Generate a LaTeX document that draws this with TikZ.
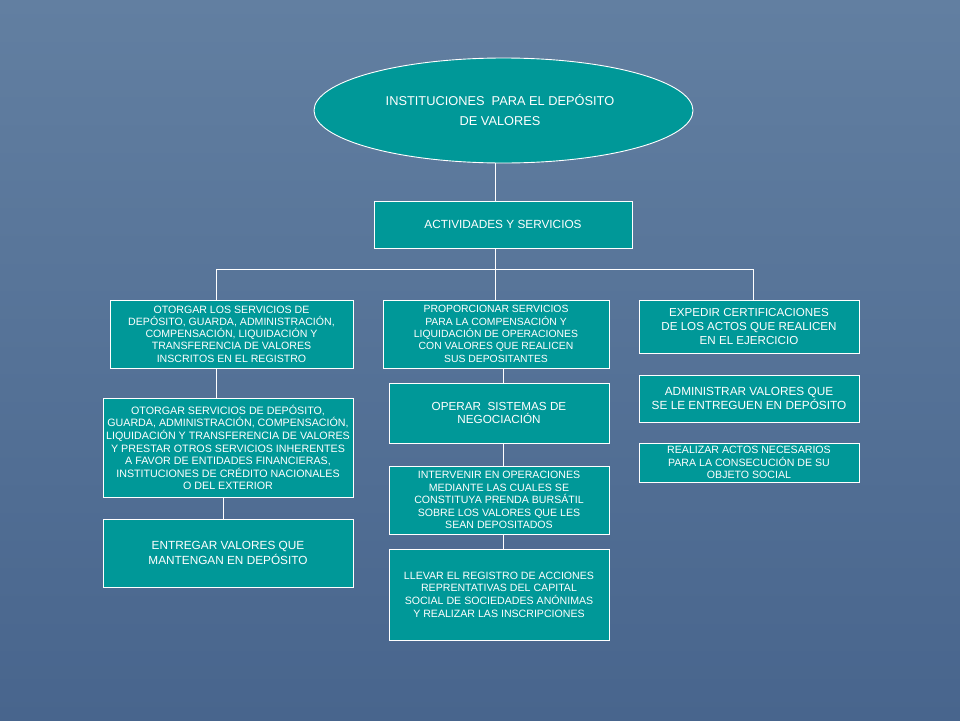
\documentclass[tikz,border=0pt]{standalone}
\usepackage{fontspec}
\setmainfont{Liberation Sans}
\usetikzlibrary{shapes.geometric}
\definecolor{bgtop}{RGB}{98,127,161}
\definecolor{bgbot}{RGB}{72,101,141}
\definecolor{tealbox}{RGB}{0,152,152}
\newcommand\fsz[2]{\fontsize{#1}{#2}\selectfont}
\tikzset{
  box/.style={draw=white, line width=0.9pt, fill=tealbox, text=white, align=center, inner sep=0pt, rectangle},
  link/.style={draw=white, line width=1pt},
}
\begin{document}
\begin{tikzpicture}[x=1pt,y=-1pt]
\useasboundingbox (0,0) rectangle (960,720);
\shade[top color=bgtop, bottom color=bgbot] (0,0) rectangle (960,720);

\node[box, ellipse, minimum width=379pt, minimum height=105pt, font=\fsz{12.8}{20}] (ell) at (503.5,110.5) {};
\node[text=white, align=center, font=\fsz{12.8}{20}, inner sep=0pt] (ellt) at (500,110) {INSTITUCIONES\ \ PARA EL DEPÓSITO\\DE VALORES};

\node[box, minimum width=258pt, minimum height=47pt, font=\fsz{11.8}{14}] (act) at (503,224.5) {ACTIVIDADES Y SERVICIOS};

\node[box, minimum width=243pt, minimum height=68pt, font=\fsz{10.6}{12.2}] (b1) at (231.5,334)
 {OTORGAR LOS SERVICIOS DE\\DEPÓSITO, GUARDA, ADMINISTRACIÓN,\\COMPENSACIÓN, LIQUIDACIÓN Y\\TRANSFERENCIA DE VALORES\\INSCRITOS EN EL REGISTRO};
\node[box, minimum width=250pt, minimum height=99pt, font=\fsz{10.7}{12.6}] (b2) at (228,447.5)
 {OTORGAR SERVICIOS DE DEPÓSITO,\\GUARDA, ADMINISTRACIÓN, COMPENSACIÓN,\\LIQUIDACIÓN Y TRANSFERENCIA DE VALORES\\Y PRESTAR OTROS SERVICIOS INHERENTES\\A FAVOR DE ENTIDADES FINANCIERAS,\\INSTITUCIONES DE CRÉDITO NACIONALES\\O DEL EXTERIOR};
\node[box, minimum width=250pt, minimum height=68pt, font=\fsz{11.8}{15}] (b3) at (228,553)
 {ENTREGAR VALORES QUE\\MANTENGAN EN DEPÓSITO};

\node[box, minimum width=226pt, minimum height=68pt, font=\fsz{10.4}{12.4}] (m1) at (496,334)
 {PROPORCIONAR SERVICIOS\\PARA LA COMPENSACIÓN Y\\LIQUIDACIÓN DE OPERACIONES\\CON VALORES QUE REALICEN\\SUS DEPOSITANTES};
\node[box, minimum width=220pt, minimum height=60pt, font=\fsz{11.7}{13.5}] (m2) at (499,413)
 {OPERAR\ \ SISTEMAS DE\\NEGOCIACIÓN};
\node[box, minimum width=220pt, minimum height=68pt, font=\fsz{10.6}{12.5}] (m3) at (499,500)
 {INTERVENIR EN OPERACIONES\\MEDIANTE LAS CUALES SE\\CONSTITUYA PRENDA BURSÁTIL\\SOBRE LOS VALORES QUE LES\\SEAN DEPOSITADOS};
\node[box, minimum width=220pt, minimum height=91pt, font=\fsz{10.6}{12.7}] (m4) at (499,594.5)
 {LLEVAR EL REGISTRO DE ACCIONES\\REPRENTATIVAS DEL CAPITAL\\SOCIAL DE SOCIEDADES ANÓNIMAS\\Y REALIZAR LAS INSCRIPCIONES};

\node[box, minimum width=220pt, minimum height=53pt, font=\fsz{11.6}{14}] (r1) at (749,326.5)
 {EXPEDIR CERTIFICACIONES\\DE LOS ACTOS QUE REALICEN\\EN EL EJERCICIO};
\node[box, minimum width=220pt, minimum height=47pt, font=\fsz{11.8}{14}] (r2) at (749,398.5)
 {ADMINISTRAR VALORES QUE\\SE LE ENTREGUEN EN DEPÓSITO};
\node[box, minimum width=220pt, minimum height=39pt, font=\fsz{10.6}{12.5}] (r3) at (749,462.5)
 {REALIZAR ACTOS NECESARIOS\\PARA LA CONSECUCIÓN DE SU\\OBJETO SOCIAL};

\coordinate (j) at (495,269);
\coordinate (hl) at (216,269);
\coordinate (hr) at (753,269);
\coordinate (v2) at (223,508);
\coordinate (v3) at (503,450);

\draw[link] (j |- ell.south) -- (j |- act.north);
\draw[link] (j |- act.south) -- (j);
\draw[link] (hl) -- (hr);
\draw[link] (hl) -- (hl |- b1.north);
\draw[link] (j) -- (j |- m1.north);
\draw[link] (hr) -- (hr |- r1.north);
\draw[link] (hl |- b1.south) -- (hl |- b2.north);
\draw[link] (v2 |- b2.south) -- (v2 |- b3.north);
\draw[link] (v3 |- m1.south) -- (v3 |- m2.north);
\draw[link] (v3 |- m2.south) -- (v3 |- m3.north);
\draw[link] (v3 |- m3.south) -- (v3 |- m4.north);
\end{tikzpicture}
\end{document}
